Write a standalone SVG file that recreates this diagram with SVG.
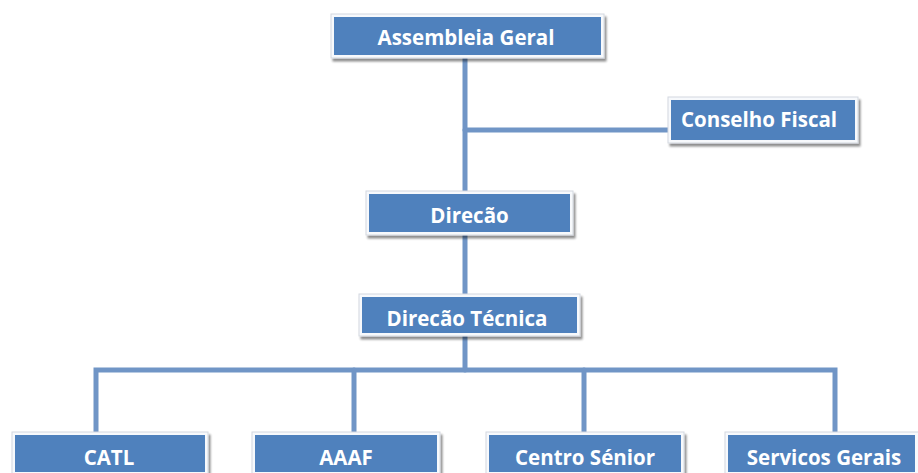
<svg xmlns="http://www.w3.org/2000/svg" width="918" height="473" viewBox="0 0 918 473">
<defs>
<filter id="sh" x="-5%" y="-20%" width="115%" height="150%">
<feGaussianBlur in="SourceAlpha" stdDeviation="1"/>
<feOffset dx="2" dy="3"/>
<feComponentTransfer><feFuncA type="linear" slope="0.45"/></feComponentTransfer>
<feMerge><feMergeNode/><feMergeNode in="SourceGraphic"/></feMerge>
</filter>
</defs>
<style>
.frame{fill:#f7f9fc;stroke:#d3d8df;stroke-width:1;filter:url(#sh)}
.box{fill:#4f81bd}
.lbl{font-family:"Open Sans",Lato,sans-serif;font-weight:bold;font-size:20.5px;fill:#ffffff;text-anchor:middle}
.con{fill:none;stroke:#7095c6;stroke-width:5;stroke-linecap:round;stroke-linejoin:miter}
</style>
<rect width="918" height="473" fill="#ffffff"/>
<g id="connectors">
<path class="con" d="M465,58 V194"/>
<path class="con" d="M465,130 H671"/>
<path class="con" d="M465,232 V297"/>
<path class="con" d="M465,333 V370"/>
<path class="con" d="M96,432 V370 H835 V432"/>
<path class="con" d="M354,370 V432"/>
<path class="con" d="M584,370 V432"/>
</g>
<g id="assembleia">
<rect class="frame" x="331" y="14" width="273" height="44"/>
<rect class="box" x="334" y="17" width="267" height="38"/>
<text class="lbl" x="466" y="45">Assembleia Geral</text>
</g>
<g id="conselho">
<rect class="frame" x="668" y="97" width="190" height="46"/>
<rect class="box" x="671" y="100" width="184" height="40"/>
<text class="lbl" x="759" y="127">Conselho Fiscal</text>
</g>
<g id="direcao">
<rect class="frame" x="366" y="191" width="207" height="44"/>
<rect class="box" x="369" y="194" width="201" height="38"/>
<text class="lbl" x="469.5" y="223">Direcão</text>
</g>
<g id="direcao-tecnica">
<rect class="frame" x="359" y="294" width="221" height="42"/>
<rect class="box" x="362" y="297" width="215" height="36"/>
<text class="lbl" x="467" y="326">Direcão Técnica</text>
</g>
<g id="catl">
<rect class="frame" x="12" y="432" width="196" height="44"/>
<rect class="box" x="15" y="435" width="190" height="37"/>
<text class="lbl" x="109" y="465">CATL</text>
</g>
<g id="aaaf">
<rect class="frame" x="252" y="432" width="188" height="44"/>
<rect class="box" x="255" y="435" width="182" height="37"/>
<text class="lbl" x="346" y="465">AAAF</text>
</g>
<g id="centro-senior">
<rect class="frame" x="486" y="432" width="198" height="44"/>
<rect class="box" x="489" y="435" width="192" height="37"/>
<text class="lbl" x="585" y="465">Centro Sénior</text>
</g>
<g id="servicos-gerais">
<rect class="frame" x="725" y="432" width="196" height="44"/>
<rect class="box" x="728" y="435" width="187" height="37"/>
<text class="lbl" x="824" y="465">Servicos Gerais</text>
</g>
</svg>
